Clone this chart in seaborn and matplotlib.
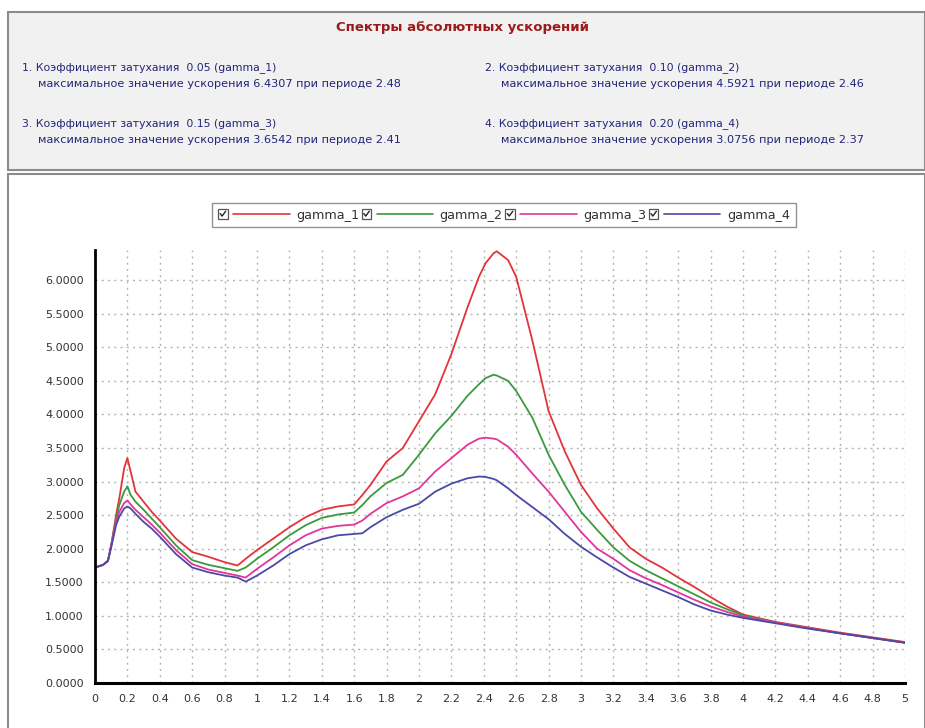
import numpy as np
import pandas as pd
import matplotlib
matplotlib.use("Agg")
import matplotlib.pyplot as plt
import seaborn as sns
from matplotlib.patches import Rectangle
from matplotlib.lines import Line2D
from matplotlib.legend_handler import HandlerBase

# ---------------- data ----------------
period = [0, 0.05, 0.08, 0.1, 0.13, 0.15, 0.18, 0.2, 0.22, 0.25, 0.3, 0.35, 0.4, 0.5, 0.6, 0.7, 0.8,
          0.88, 0.93, 1.0, 1.1, 1.2, 1.3, 1.4, 1.5, 1.6, 1.65, 1.7, 1.8, 1.9, 2.0, 2.1, 2.2, 2.3,
          2.37, 2.41, 2.46, 2.48, 2.55, 2.6, 2.7, 2.8, 2.9, 3.0, 3.1, 3.2, 3.3, 3.4, 3.5, 3.6, 3.7,
          3.8, 3.9, 4.0, 4.2, 4.4, 4.6, 4.8, 5.0]

gamma_1 = [1.72, 1.76, 1.82, 2.05, 2.5, 2.75, 3.2, 3.35, 3.15, 2.85, 2.7, 2.55, 2.42, 2.15, 1.95, 1.88, 1.8,
           1.75, 1.85, 1.98, 2.15, 2.32, 2.47, 2.58, 2.63, 2.66, 2.8, 2.95, 3.3, 3.5, 3.9, 4.3, 4.9, 5.6,
           6.05, 6.25, 6.40, 6.4307, 6.3, 6.05, 5.1, 4.05, 3.45, 2.95, 2.6, 2.3, 2.02, 1.85, 1.72, 1.57, 1.43,
           1.28, 1.14, 1.02, 0.91, 0.83, 0.75, 0.68, 0.61]

gamma_2 = [1.72, 1.76, 1.82, 2.05, 2.45, 2.65, 2.85, 2.93, 2.8, 2.7, 2.58, 2.45, 2.32, 2.05, 1.83, 1.76, 1.71,
           1.67, 1.72, 1.85, 2.02, 2.2, 2.35, 2.46, 2.51, 2.54, 2.65, 2.78, 2.98, 3.1, 3.4, 3.72, 3.98, 4.28,
           4.45, 4.54, 4.5921, 4.58, 4.5, 4.35, 3.95, 3.4, 2.95, 2.55, 2.28, 2.02, 1.82, 1.68, 1.56, 1.44, 1.32,
           1.2, 1.1, 1.01, 0.9, 0.82, 0.74, 0.67, 0.6]

gamma_3 = [1.72, 1.76, 1.82, 2.05, 2.4, 2.55, 2.68, 2.72, 2.66, 2.58, 2.47, 2.36, 2.24, 1.98, 1.77, 1.69, 1.64,
           1.6, 1.57, 1.7, 1.87, 2.05, 2.2, 2.3, 2.34, 2.36, 2.42, 2.52, 2.68, 2.78, 2.9, 3.15, 3.35, 3.55,
           3.64, 3.6542, 3.64, 3.63, 3.52, 3.4, 3.12, 2.85, 2.55, 2.25, 2.0, 1.85, 1.68, 1.56, 1.46, 1.35, 1.24,
           1.14, 1.06, 0.99, 0.9, 0.82, 0.74, 0.67, 0.6]

gamma_4 = [1.72, 1.76, 1.82, 2.02, 2.35, 2.48, 2.6, 2.63, 2.6, 2.52, 2.4, 2.3, 2.18, 1.92, 1.72, 1.65, 1.6,
           1.57, 1.51, 1.6, 1.75, 1.92, 2.05, 2.14, 2.2, 2.22, 2.23, 2.32, 2.47, 2.58, 2.67, 2.85, 2.97, 3.05,
           3.0756, 3.07, 3.04, 3.02, 2.9, 2.8, 2.62, 2.44, 2.22, 2.03, 1.87, 1.72, 1.58, 1.48, 1.38, 1.28, 1.17,
           1.08, 1.02, 0.97, 0.89, 0.81, 0.74, 0.67, 0.6]

series_names = ["gamma_1", "gamma_2", "gamma_3", "gamma_4"]
damping = ["0.05", "0.10", "0.15", "0.20"]
max_values = ["6.4307", "4.5921", "3.6542", "3.0756"]
max_periods = ["2.48", "2.46", "2.41", "2.37"]
title_text = "Спектры абсолютных ускорений"

x_ticks = [0, 0.2, 0.4, 0.6, 0.8, 1, 1.2, 1.4, 1.6, 1.8, 2, 2.2, 2.4, 2.6, 2.8, 3, 3.2, 3.4, 3.6, 3.8,
           4, 4.2, 4.4, 4.6, 4.8, 5]
x_labels = ["0", "0.2", "0.4", "0.6", "0.8", "1", "1.2", "1.4", "1.6", "1.8", "2", "2.2", "2.4", "2.6",
            "2.8", "3", "3.2", "3.4", "3.6", "3.8", "4", "4.2", "4.4", "4.6", "4.8", "5"]
y_ticks = [0, 0.5, 1.0, 1.5, 2.0, 2.5, 3.0, 3.5, 4.0, 4.5, 5.0, 5.5, 6.0]

colors = {"gamma_1": "#e3333b", "gamma_2": "#3a9a3c", "gamma_3": "#e2359a", "gamma_4": "#4a4aa6"}

df = pd.DataFrame({"period": period, "gamma_1": gamma_1, "gamma_2": gamma_2,
                   "gamma_3": gamma_3, "gamma_4": gamma_4})
long = df.melt(id_vars="period", var_name="series", value_name="accel")

# ---------------- figure ----------------
sns.set_style("white")
plt.rcParams["font.family"] = ["DejaVu Sans"]

W, H = 925, 728
fig = plt.figure(figsize=(W / 100, H / 100), dpi=100)

def fx(px):
    return px / W

def fy(py):
    return 1 - py / H

# top info panel
fig.patches.append(Rectangle((fx(8), fy(170)), fx(925 - 8), fy(12) - fy(170), transform=fig.transFigure,
                             facecolor="#f1f1f1", edgecolor="#8c8c8c", lw=1.5, zorder=-10))
# lower panel border
fig.patches.append(Rectangle((fx(8), fy(735)), fx(925 - 8), fy(174) - fy(735), transform=fig.transFigure,
                             facecolor="white", edgecolor="#8c8c8c", lw=1.5, zorder=-10))

fig.text(fx(462), fy(28), title_text, ha="center", va="center", fontsize=9.5, fontweight="bold",
         color="#9b1b1b")

txt_color = "#23237a"
positions = [(22, 68), (485, 68), (22, 124), (485, 124)]
for i, (px, py) in enumerate(positions):
    fig.text(fx(px), fy(py), f"{i + 1}. Коэффициент затухания  {damping[i]} ({series_names[i]})",
             ha="left", va="center", fontsize=7.8, color=txt_color)
    fig.text(fx(px + 16), fy(py + 16),
             f"максимальное значение ускорения {max_values[i]} при периоде {max_periods[i]}",
             ha="left", va="center", fontsize=8.1, color=txt_color)

ax = fig.add_axes([fx(95), fy(683), fx(905) - fx(95), fy(250) - fy(683)])
ax.set_zorder(5)
ax.set_facecolor("white")

sns.lineplot(data=long, x="period", y="accel", hue="series", palette=colors, ax=ax,
             linewidth=1.3, legend=False, sort=True, estimator=None)

ax.set_xlim(0, 5)
ax.set_ylim(0, 6.45)
ax.set_xticks(x_ticks)
ax.set_xticklabels(x_labels)
ax.set_yticks(y_ticks)
ax.set_yticklabels([f"{v:.4f}" for v in y_ticks])
ax.set_xlabel("")
ax.set_ylabel("")
ax.tick_params(axis="both", labelsize=8, colors="#333333", length=3, width=0.8, pad=5)
ax.grid(True, color="#b5b5b5", linestyle=(0, (1.5, 3)), linewidth=1.0)
for s in ["top", "right"]:
    ax.spines[s].set_visible(False)
ax.spines["left"].set_color("black")
ax.spines["left"].set_linewidth(2)
ax.spines["bottom"].set_color("black")
ax.spines["bottom"].set_linewidth(2.2)


class CheckHandler(HandlerBase):
    def create_artists(self, legend, orig_handle, xdescent, ydescent, width, height, fontsize, trans):
        s = height * 1.05
        x0 = -xdescent
        y0 = -ydescent + (height - s) / 2
        box = Rectangle((x0, y0), s, s, facecolor="white", edgecolor="#555555", lw=0.9, transform=trans)
        chk = Line2D([x0 + 0.22 * s, x0 + 0.42 * s, x0 + 0.8 * s],
                     [y0 + 0.55 * s, y0 + 0.28 * s, y0 + 0.8 * s],
                     color="#222222", lw=1.0, transform=trans)
        ln = Line2D([x0 + s + 0.6 * height, x0 + width], [-ydescent + height / 2] * 2,
                    color=orig_handle.get_color(), lw=1.2, transform=trans)
        return [box, chk, ln]


handles = [Line2D([], [], color=colors[n]) for n in series_names]
leg = fig.legend(handles, series_names, loc="center", bbox_to_anchor=(fx(504), fy(215)), ncol=4,
                 handler_map={Line2D: CheckHandler()}, handlelength=5.6, handletextpad=0.5,
                 columnspacing=0.2, fontsize=9.2, frameon=True, fancybox=False, borderpad=0.45,
                 labelcolor="#333333")
leg.set_zorder(6)
leg.get_frame().set_edgecolor("#777777")
leg.get_frame().set_linewidth(1.0)

fig.savefig("out.png", dpi=100)
